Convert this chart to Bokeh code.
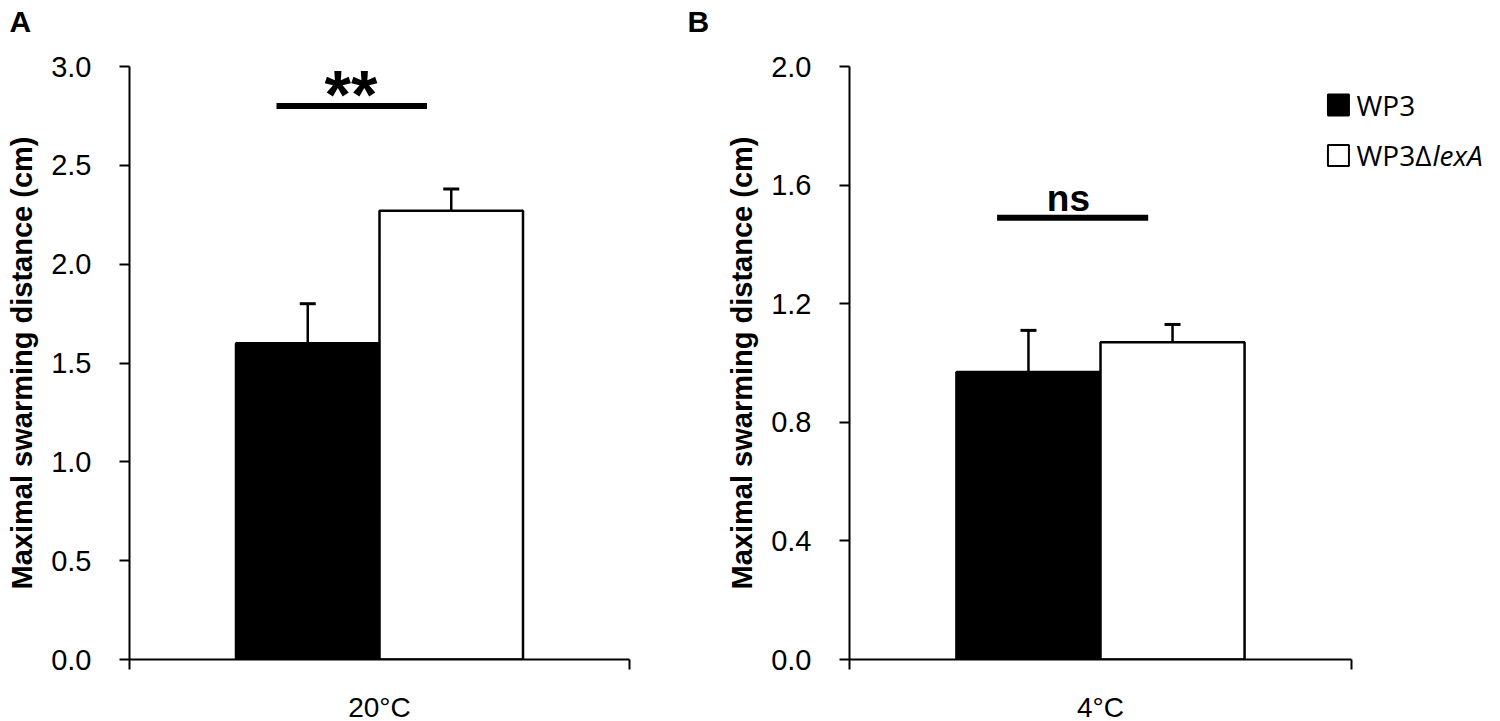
from bokeh.plotting import figure
from bokeh.layouts import row, column
from bokeh.models import (ColumnDataSource, Range1d, FixedTicker, PrintfTickFormatter,
                          Whisker, TeeHead)
from bokeh.core.properties import value
from bokeh.embed import file_html
from bokeh.resources import INLINE

# ---------------- data ----------------
series_names = ["WP3", "WP3ΔlexA"]
legend_plain = ["WP3", "WP3Δ"]
legend_italic = ["", "lexA"]
series_fill = ["black", "white"]

panel_letters = ["A", "B"]

cat_a = ["20°C"]
wp3_a = [1.60]
wp3_err_a = [0.20]
lexa_a = [2.27]
lexa_err_a = [0.11]
sig_text_a = ["**"]
sig_y_a = [2.80]
yticks_a = [0.0, 0.5, 1.0, 1.5, 2.0, 2.5, 3.0]

cat_b = ["4°C"]
wp3_b = [0.97]
wp3_err_b = [0.14]
lexa_b = [1.07]
lexa_err_b = [0.06]
sig_text_b = ["ns"]
sig_y_b = [1.49]
yticks_b = [0.0, 0.4, 0.8, 1.2, 1.6, 2.0]

legend_y = [1.87, 1.70]

AX_FONT = "Liberation Sans"
BAR_W = 0.287
HEADER_H = 40
TOP = 26
FRAME_H = 593
HEIGHT = 674
W_A = 129 + 500 + 50
W_B = 170 + 645 + 0


def make_panel(cats, vals, errs, yticks, ymax, sig_text, sig_y,
               left_border, frame_w, right_border, x_end, show_legend):
    p = figure(width=left_border + frame_w + right_border, height=HEIGHT,
               output_backend="svg", toolbar_location=None,
               x_range=Range1d(0, x_end), y_range=Range1d(0, ymax),
               min_border_left=left_border, min_border_right=right_border,
               min_border_top=TOP, min_border_bottom=HEIGHT - TOP - FRAME_H)
    p.frame_width = frame_w
    p.frame_height = FRAME_H
    p.outline_line_color = None
    p.background_fill_color = "white"
    p.border_fill_color = "white"
    p.xgrid.visible = False
    p.ygrid.visible = False

    # bars + error bars
    offsets = [-BAR_W / 2, BAR_W / 2]
    for s, (v, e) in enumerate(zip(vals, errs)):
        xs = [i + 0.5 + offsets[s] for i in range(len(cats))]
        src = ColumnDataSource(dict(x=xs, top=v, upper=[a + b for a, b in zip(v, e)]))
        p.vbar(x="x", top="top", bottom=0, width=BAR_W, source=src,
               fill_color=series_fill[s], line_color="black", line_width=2.5)
        p.add_layout(Whisker(source=src, base="x", lower="top", upper="upper",
                             line_color="black", line_width=2.5, lower_head=None,
                             upper_head=TeeHead(size=16, line_color="black", line_width=3)))

    # significance bar + text
    for i, (t, sy) in enumerate(zip(sig_text, sig_y)):
        p.segment(x0=[i + 0.294], x1=[i + 0.595], y0=[sy], y1=[sy],
                  line_color="black", line_width=6)
        if t == "**":
            p.text(x=[i + 0.443], y=[sy], text=[t], text_align="center",
                   text_baseline="alphabetic", y_offset=-12,
                   text_font=value(AX_FONT), text_font_style="bold",
                   text_font_size="68px", text_color="black")
        else:
            p.text(x=[i + 0.436], y=[sy], text=[t], text_align="center",
                   text_baseline="alphabetic", y_offset=-19,
                   text_font=value(AX_FONT), text_font_style="bold",
                   text_font_size="37px", text_color="black")

    # x axis: category label at centre, boundary ticks at edges
    xa = p.xaxis[0]
    xa.ticker = FixedTicker(ticks=[i + 0.5 for i in range(len(cats))],
                            minor_ticks=[float(i) for i in range(len(cats) + 1)])
    xa.major_label_overrides = {i + 0.5: c for i, c in enumerate(cats)}
    xa.bounds = (0, len(cats))
    xa.major_tick_out = 0
    xa.major_tick_in = 0
    xa.minor_tick_out = 10
    xa.minor_tick_in = 0
    xa.minor_tick_line_color = "black"
    xa.minor_tick_line_width = 2
    xa.axis_line_color = "black"
    xa.axis_line_width = 2
    xa.major_label_standoff = 22
    xa.major_label_text_font = AX_FONT
    xa.major_label_text_font_size = "28px"
    xa.major_label_text_color = "black"

    ya = p.yaxis[0]
    ya.ticker = FixedTicker(ticks=yticks, minor_ticks=[])
    ya.formatter = PrintfTickFormatter(format="%.1f")
    ya.major_tick_out = 10
    ya.major_tick_in = 0
    ya.major_tick_line_width = 2
    ya.major_tick_line_color = "black"
    ya.axis_line_width = 2
    ya.axis_line_color = "black"
    ya.major_label_standoff = 28
    ya.major_label_text_font = AX_FONT
    ya.major_label_text_font_size = "29px"
    ya.major_label_text_color = "black"
    ya.axis_label = "Maximal swarming distance (cm)"
    ya.axis_label_text_font = AX_FONT
    ya.axis_label_text_font_style = "bold"
    ya.axis_label_text_font_size = "29px"
    ya.axis_label_text_color = "black"
    ya.axis_label_standoff = 10

    if show_legend:
        p.rect(x=[0.974] * len(series_names), y=legend_y, width=21, height=21,
               width_units="screen", height_units="screen",
               fill_color=series_fill, line_color="black", line_width=2)
        p.text(x=[1.010] * len(series_names), y=legend_y, text=legend_plain,
               text_baseline="middle", text_align="left",
               text_font=value("Open Sans"), text_font_size="28px", text_color="black")
        p.text(x=[1.010] * len(series_names), y=legend_y, text=legend_italic,
               x_offset=76, text_baseline="middle", text_align="left",
               text_font=value("Open Sans"), text_font_style="italic",
               text_font_size="28px", text_color="black")
    return p


# header strip carrying the panel letters (pixel-based ranges)
header = figure(width=W_A + W_B, height=HEADER_H, output_backend="svg",
                toolbar_location=None, x_range=Range1d(0, W_A + W_B),
                y_range=Range1d(0, HEADER_H), min_border=0,
                min_border_top=0, min_border_bottom=0, min_border_left=0,
                min_border_right=0, x_axis_type=None, y_axis_type=None)
header.title.visible = False
header.outline_line_color = None
header.xgrid.visible = False
header.ygrid.visible = False
header.text(x=[9, 687], y=[19, 19], text=panel_letters, text_baseline="middle",
            text_align="left", text_font=value(AX_FONT), text_font_style="bold",
            text_font_size="30px", text_color="black")

pa = make_panel(cat_a, [wp3_a, lexa_a], [wp3_err_a, lexa_err_a], yticks_a, 3.0,
                sig_text_a, sig_y_a, left_border=129, frame_w=500, right_border=50,
                x_end=1.0, show_legend=False)
pb = make_panel(cat_b, [wp3_b, lexa_b], [wp3_err_b, lexa_err_b], yticks_b, 2.0,
                sig_text_b, sig_y_b, left_border=170, frame_w=645, right_border=0,
                x_end=645 / 502, show_legend=True)

layout = column(header, row(pa, pb))
open("out.html", "w").write(file_html(layout, INLINE))
